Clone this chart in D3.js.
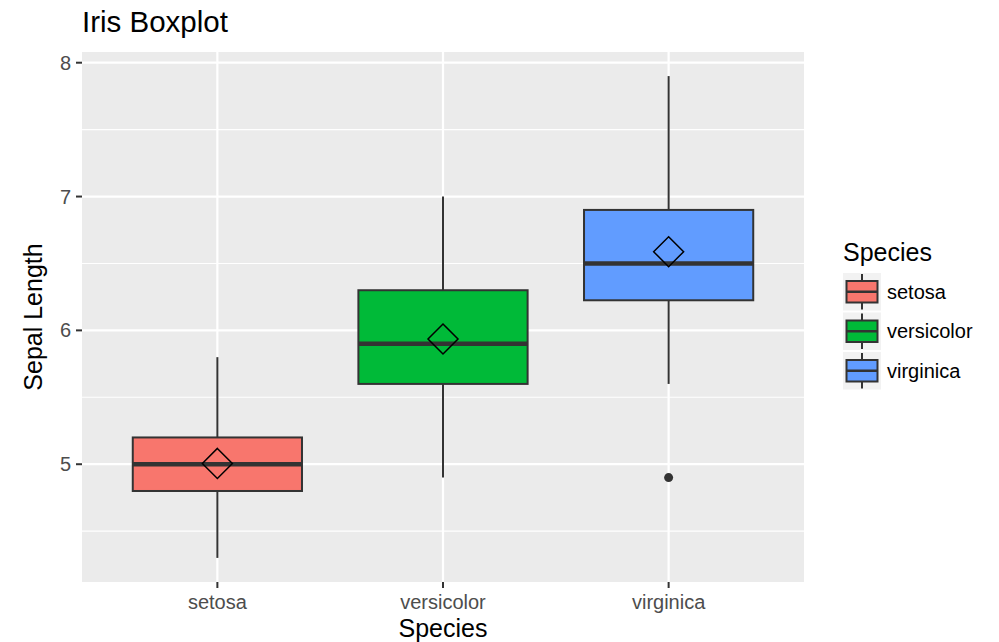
<!DOCTYPE html>
<html><head><meta charset="utf-8">
<script src="https://cdn.jsdelivr.net/npm/d3@7"></script>
<style>body{margin:0;background:#fff}svg{display:block;font-family:"Liberation Sans",Arial,sans-serif}</style>
</head><body><svg id="c" width="999" height="642"></svg>
<script>
const species = ["setosa","versicolor","virginica"];
const colors = ["#F8766D","#00BA38","#619CFF"];
const whiskerLow = [4.3, 4.9, 5.6];
const q1 = [4.8, 5.6, 6.225];
const median = [5.0, 5.9, 6.5];
const q3 = [5.2, 6.3, 6.9];
const whiskerHigh = [5.8, 7.0, 7.9];
const means = [5.006, 5.936, 6.588];
const outliers = [{s:"virginica", v:4.9}];
const yTicks = [5,6,7,8];
const yMinor = [4.5,5.5,6.5,7.5];

const svg = d3.select("#c");
const L=82,R=804,T=52,B=582;
const y = d3.scaleLinear().domain([4.12,8.08]).range([B,T]);
const xi = d3.scaleLinear().domain([0.4,3.6]).range([L,R]);
const x = s => xi(species.indexOf(s)+1);
const bw = xi(1.375)-xi(1);

svg.append("rect").attr("x",L).attr("y",T).attr("width",R-L).attr("height",B-T).attr("fill","#EBEBEB");
const g = svg.append("g");
yMinor.forEach(v=>g.append("line").attr("x1",L).attr("x2",R).attr("y1",y(v)).attr("y2",y(v)).attr("stroke","#fff").attr("stroke-width",1.1));
yTicks.forEach(v=>g.append("line").attr("x1",L).attr("x2",R).attr("y1",y(v)).attr("y2",y(v)).attr("stroke","#fff").attr("stroke-width",2.2));
species.forEach(s=>g.append("line").attr("x1",x(s)).attr("x2",x(s)).attr("y1",T).attr("y2",B).attr("stroke","#fff").attr("stroke-width",2.2));

species.forEach((s,i)=>{
  const cx=x(s);
  g.append("line").attr("x1",cx).attr("x2",cx).attr("y1",y(whiskerHigh[i])).attr("y2",y(q3[i])).attr("stroke","#333").attr("stroke-width",2);
  g.append("line").attr("x1",cx).attr("x2",cx).attr("y1",y(q1[i])).attr("y2",y(whiskerLow[i])).attr("stroke","#333").attr("stroke-width",2);
  g.append("rect").attr("x",cx-bw).attr("width",2*bw).attr("y",y(q3[i])).attr("height",y(q1[i])-y(q3[i]))
    .attr("fill",colors[i]).attr("stroke","#333").attr("stroke-width",2);
  g.append("line").attr("x1",cx-bw).attr("x2",cx+bw).attr("y1",y(median[i])).attr("y2",y(median[i])).attr("stroke","#333").attr("stroke-width",4.5);
});
outliers.forEach(o=>g.append("circle").attr("cx",x(o.s)).attr("cy",y(o.v)).attr("r",4.5).attr("fill","#333"));
species.forEach((s,i)=>{
  const cx=x(s), cy=y(means[i]), d=15;
  g.append("path").attr("d",`M${cx},${cy-d}L${cx+d},${cy}L${cx},${cy+d}L${cx-d},${cy}Z`).attr("fill","none").attr("stroke","#000").attr("stroke-width",1.5);
});

// axes
yTicks.forEach(v=>{
  svg.append("line").attr("x1",L-6).attr("x2",L).attr("y1",y(v)).attr("y2",y(v)).attr("stroke","#333").attr("stroke-width",2);
  svg.append("text").attr("x",L-11).attr("y",y(v)).attr("dy","0.35em").attr("text-anchor","end").attr("font-size",20).attr("fill","#4D4D4D").text(v);
});
species.forEach(s=>{
  svg.append("line").attr("x1",x(s)).attr("x2",x(s)).attr("y1",B).attr("y2",B+6).attr("stroke","#333").attr("stroke-width",2);
  svg.append("text").attr("x",x(s)).attr("y",609).attr("text-anchor","middle").attr("font-size",20).attr("fill","#4D4D4D").text(s);
});
svg.append("text").attr("x",(L+R)/2).attr("y",637).attr("text-anchor","middle").attr("font-size",25).attr("fill","#000").text("Species");
svg.append("text").attr("transform",`translate(42,${(T+B)/2}) rotate(-90)`).attr("text-anchor","middle").attr("font-size",25).attr("fill","#000").text("Sepal Length");
svg.append("text").attr("x",82).attr("y",32).attr("font-size",29.5).attr("fill","#000").text("Iris Boxplot");

// legend
svg.append("text").attr("x",843).attr("y",261).attr("font-size",25).attr("fill","#000").text("Species");
species.forEach((s,i)=>{
  const ky=273+i*39.5, kx=843, kw=38, kh=37.5, cx=kx+kw/2;
  const lg=svg.append("g");
  lg.append("rect").attr("x",kx).attr("y",ky).attr("width",kw).attr("height",kh).attr("fill","#F2F2F2");
  lg.append("line").attr("x1",cx).attr("x2",cx).attr("y1",ky+1).attr("y2",ky+kh-1).attr("stroke","#333").attr("stroke-width",2);
  lg.append("rect").attr("x",kx+3.5).attr("y",ky+8).attr("width",kw-7).attr("height",kh-16).attr("fill",colors[i]).attr("stroke","#333").attr("stroke-width",2);
  lg.append("line").attr("x1",kx+3.5).attr("x2",kx+kw-3.5).attr("y1",ky+kh/2).attr("y2",ky+kh/2).attr("stroke","#333").attr("stroke-width",2.5);
  lg.append("text").attr("x",887).attr("y",ky+kh/2).attr("dy","0.35em").attr("font-size",20).attr("fill","#000").text(s);
});
</script></body></html>
